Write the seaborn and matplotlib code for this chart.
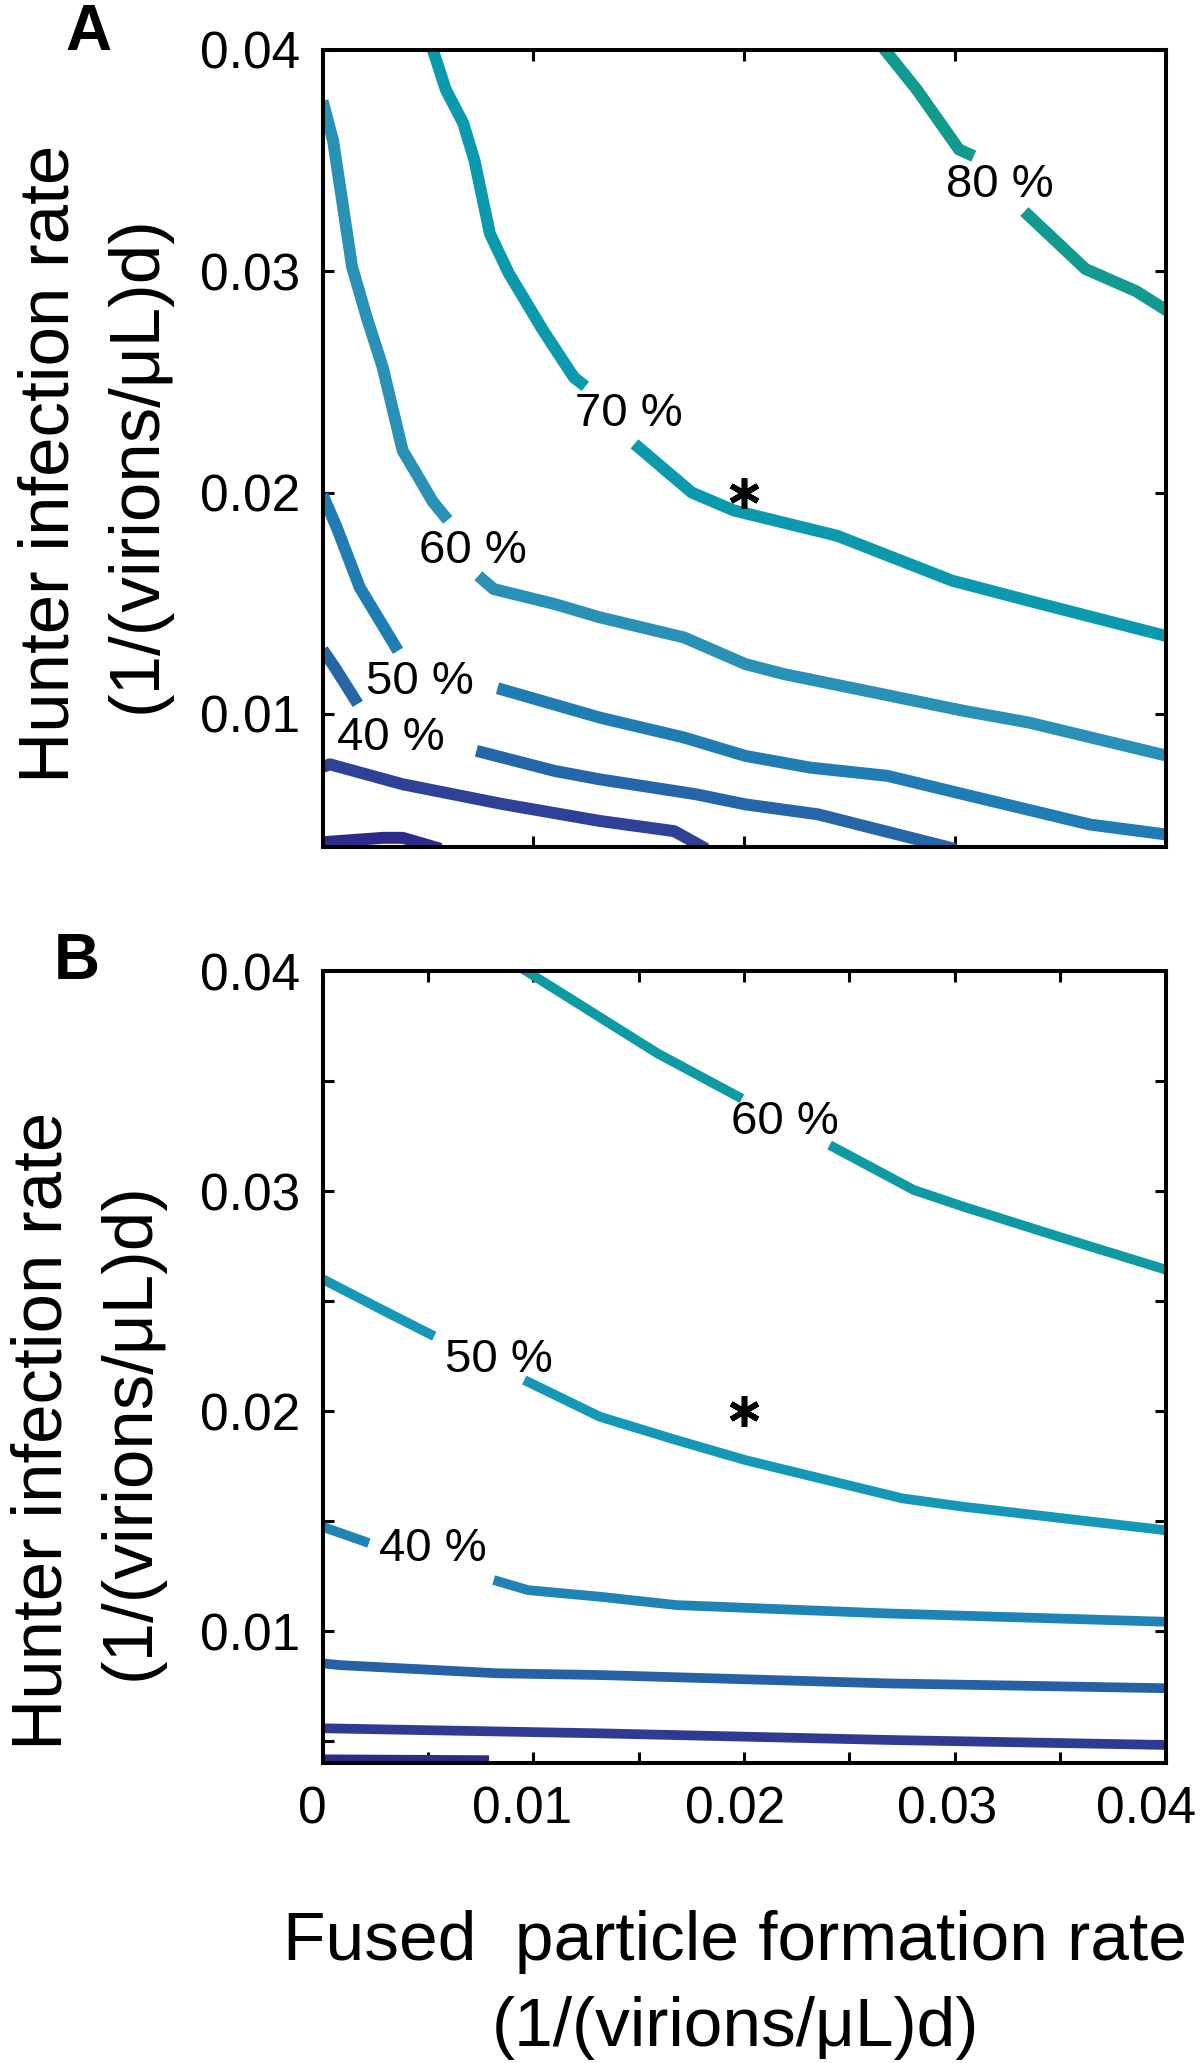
import numpy as np
import pandas as pd
import seaborn as sns
import matplotlib.pyplot as plt
from matplotlib.transforms import ScaledTranslation

# --- panel A: contour lines (x, y, piece id; pieces are split at label gaps) ---
A80_X = [0.0266, 0.0282, 0.0302, 0.0309, 0.0333, 0.0362, 0.0386, 0.0401]
A80_Y = [0.0401, 0.0382, 0.0355, 0.0352, 0.0327, 0.0301, 0.0291, 0.0282]
A80_SEG = [0, 0, 0, 0, 1, 1, 1, 1]

A70_X = [0.0052, 0.00585, 0.00667, 0.00721, 0.00794, 0.00884, 0.01048, 0.01193, 0.01247,
         0.0148, 0.01752, 0.01952, 0.02441, 0.02987, 0.03404, 0.0401]
A70_Y = [0.0401, 0.0382, 0.0367, 0.0350, 0.0317, 0.0299, 0.0273, 0.0252, 0.0248,
         0.0222, 0.0200, 0.01919, 0.01805, 0.01602, 0.01498, 0.0135]
A70_SEG = [0] * 9 + [1] * 7

A60_X = [0.0, 0.0005, 0.0014, 0.0021, 0.00285, 0.0038, 0.00467, 0.00522, 0.00594,
         0.00739, 0.00812, 0.01102, 0.01316, 0.01716, 0.02006, 0.02188, 0.03041, 0.0335, 0.0401]
A60_Y = [0.0377, 0.0359, 0.0302, 0.0279, 0.02567, 0.0219, 0.0205, 0.0196, 0.01876,
         0.01624, 0.01564, 0.01496, 0.01436, 0.01345, 0.01225, 0.0118, 0.01014, 0.00961, 0.0081]
A60_SEG = [0] * 9 + [1] * 10

A50_X = [0.0, 0.00067, 0.00176, 0.00358,
         0.0083, 0.01316, 0.01716, 0.02006, 0.02315, 0.0268, 0.03041, 0.03641, 0.0401]
A50_Y = [0.0199, 0.01843, 0.01572, 0.01285,
         0.01116, 0.00983, 0.00893, 0.0081, 0.00757, 0.0072, 0.00637, 0.0050, 0.00454]
A50_SEG = [0] * 4 + [1] * 9

A40_X = [0.0, 0.00058, 0.00167,
         0.0073, 0.01102, 0.01316, 0.0177, 0.02006, 0.02351, 0.0300]
A40_Y = [0.0129, 0.0121, 0.01045,
         0.00833, 0.00742, 0.00704, 0.00637, 0.00591, 0.00546, 0.0039]
A40_SEG = [0] * 3 + [1] * 7

A30_X = [0.0, 0.00035, 0.0038, 0.00851, 0.01316, 0.01669, 0.0182]
A30_Y = [0.0076, 0.00772, 0.00682, 0.00593, 0.00516, 0.0047, 0.0039]
A30_SEG = [0] * 7

A20_X = [0.0, 0.0029, 0.0038, 0.0056]
A20_Y = [0.0042, 0.0044, 0.0044, 0.0039]
A20_SEG = [0] * 4

# --- panel B ---
B60_X = [0.0095, 0.01316, 0.01589, 0.0199,
         0.02406, 0.02805, 0.03041, 0.03495, 0.0401]
B60_Y = [0.0401, 0.0379, 0.03626, 0.0342,
         0.03209, 0.03005, 0.02929, 0.02792, 0.0264]
B60_SEG = [0] * 4 + [1] * 5

B50_X = [0.0, 0.00285, 0.0053,
         0.00957, 0.01316, 0.01679, 0.02006, 0.02751, 0.03041, 0.0401]
B50_Y = [0.0260, 0.02459, 0.0234,
         0.02141, 0.01974, 0.01868, 0.01777, 0.01603, 0.01565, 0.01457]
B50_SEG = [0] * 3 + [1] * 7

B40_X = [0.0, 0.0022,
         0.00812, 0.00975, 0.01316, 0.01679, 0.0268, 0.0401]
B40_Y = [0.01474, 0.0140,
         0.01232, 0.01186, 0.01156, 0.01118, 0.0108, 0.01042]
B40_SEG = [0] * 2 + [1] * 6

B30_X = [0.0, 0.00085, 0.0083, 0.01316, 0.0268, 0.0401]
B30_Y = [0.00853, 0.00845, 0.00808, 0.0080, 0.00762, 0.0074]
B30_SEG = [0] * 6

B20_X = [0.0, 0.01316, 0.0268, 0.0401]
B20_Y = [0.00558, 0.00535, 0.00505, 0.00482]
B20_SEG = [0] * 4

B10_X = [0.0, 0.0079]
B10_Y = [0.00417, 0.00413]
B10_SEG = [0] * 2

# label positions (centre of text) and star
A_LABELS = ["80 %", "70 %", "60 %", "50 %", "40 %"]
A_LABEL_X = [0.03214, 0.01451, 0.00712, 0.00462, 0.00326]
A_LABEL_Y = [0.03389, 0.02353, 0.01738, 0.01146, 0.00893]
B_LABELS = ["60 %", "50 %", "40 %"]
B_LABEL_X = [0.02193, 0.00835, 0.00521]
B_LABEL_Y = [0.03315, 0.02234, 0.01373]
STAR_X = [0.02]
STAR_Y = [0.02]

X_TICKS = [0, 0.01, 0.02, 0.03, 0.04]
X_TICKLABELS = ["0", "0.01", "0.02", "0.03", "0.04"]
Y_TICKS = [0.01, 0.02, 0.03, 0.04]
Y_TICKLABELS = ["0.01", "0.02", "0.03", "0.04"]
MINOR_TICKS = [0.005, 0.015, 0.025, 0.035]

A_COLORS = {"80": "#129a8e", "70": "#0b9aad", "60": "#2990b6", "50": "#1f7db4",
            "40": "#2566a8", "30": "#2f4196", "20": "#2e2a8a"}
B_COLORS = {"60": "#0e9aa3", "50": "#1597b8", "40": "#1f84b5", "30": "#2660a5",
            "20": "#2f3b93", "10": "#2e2a88"}


def build_frame(lines):
    rows = []
    for level, xs, ys, segs in lines:
        for x, y, s in zip(xs, ys, segs):
            rows.append({"level": level, "seg": f"{level}-{s}", "x": x, "y": y})
    return pd.DataFrame(rows)


df_a = build_frame([("80", A80_X, A80_Y, A80_SEG), ("70", A70_X, A70_Y, A70_SEG),
                    ("60", A60_X, A60_Y, A60_SEG), ("50", A50_X, A50_Y, A50_SEG),
                    ("40", A40_X, A40_Y, A40_SEG), ("30", A30_X, A30_Y, A30_SEG),
                    ("20", A20_X, A20_Y, A20_SEG)])
df_b = build_frame([("60", B60_X, B60_Y, B60_SEG), ("50", B50_X, B50_Y, B50_SEG),
                    ("40", B40_X, B40_Y, B40_SEG), ("30", B30_X, B30_Y, B30_SEG),
                    ("20", B20_X, B20_Y, B20_SEG), ("10", B10_X, B10_Y, B10_SEG)])

sns.set_style("ticks")
plt.rcParams["font.family"] = ["Liberation Sans", "DejaVu Sans"]
plt.rcParams["text.color"] = "black"
plt.rcParams["xtick.color"] = "black"
plt.rcParams["ytick.color"] = "black"
plt.rcParams["xtick.labelcolor"] = "black"
plt.rcParams["ytick.labelcolor"] = "black"

fig = plt.figure(figsize=(12, 20.63), dpi=100)
ax_a = fig.add_axes([0.2688, 0.5896, 0.7025, 0.3862])
ax_b = fig.add_axes([0.2688, 0.1454, 0.7025, 0.3839])

sns.lineplot(data=df_a, x="x", y="y", hue="level", units="seg", estimator=None, sort=False,
             palette=A_COLORS, lw=8.6, solid_capstyle="butt", legend=False, ax=ax_a)
sns.lineplot(data=df_b, x="x", y="y", hue="level", units="seg", estimator=None, sort=False,
             palette=B_COLORS, lw=7.0, solid_capstyle="butt", legend=False, ax=ax_b)

for ax in (ax_a, ax_b):
    ax.set_xlim(0, 0.04)
    ax.set_ylim(0.004, 0.04)
    ax.set_xlabel("")
    ax.set_ylabel("")
    for sp in ax.spines.values():
        sp.set_visible(True)
        sp.set_linewidth(2.9)
        sp.set_color("black")
    ax.tick_params(which="both", direction="in", length=8, width=2.2, top=True, right=True,
                   labelsize=37, pad=16, colors="black")
    ax.plot(STAR_X, STAR_Y, ls="none", marker=(6, 2, 0), ms=22, mew=4, color="black")

for x, y, t in zip(A_LABEL_X, A_LABEL_Y, A_LABELS):
    ax_a.text(x, y, t, fontsize=34, ha="center", va="center", color="black")
for x, y, t in zip(B_LABEL_X, B_LABEL_Y, B_LABELS):
    ax_b.text(x, y, t, fontsize=34, ha="center", va="center", color="black")

# panel A: ticks every 0.01, no x labels
ax_a.set_xticks(X_TICKS)
ax_a.set_xticklabels([])
ax_a.set_yticks(Y_TICKS)
ax_a.set_yticklabels(Y_TICKLABELS)

# panel B: ticks every 0.005, labels every 0.01
ax_b.set_xticks(X_TICKS)
ax_b.set_xticklabels(X_TICKLABELS)
ax_b.set_xticks(MINOR_TICKS, minor=True)
ax_b.set_yticks(Y_TICKS)
ax_b.set_yticklabels(Y_TICKLABELS)
ax_b.set_yticks(MINOR_TICKS, minor=True)

# x tick labels sit a little left of their ticks in the original
for lab, dx in zip(ax_b.get_xticklabels(), [-10, -11, -9, -8, -19]):
    lab.set_transform(lab.get_transform() + ScaledTranslation(dx / 100, 0, fig.dpi_scale_trans))

ylab = "Hunter infection rate\n(1/(virions/\u03bcL)d)"
fig.text(94 / 1200, 1 - 464 / 2063, ylab, rotation=90, ha="center", va="center",
         fontsize=51, linespacing=1.42, multialignment="center")
fig.text(87 / 1200, 1 - 1431 / 2063, ylab, rotation=90, ha="center", va="center",
         fontsize=51, linespacing=1.42, multialignment="center")
fig.text(735 / 1200, 1 - 1985 / 2063, "Fused  particle formation rate\n(1/(virions/\u03bcL)d)",
         ha="center", va="center", fontsize=50, linespacing=1.42, multialignment="center")

fig.text(88 / 1200, 1 - 33 / 2063, "A", ha="center", va="center", fontsize=46, fontweight="bold")
fig.text(76.5 / 1200, 1 - 962 / 2063, "B", ha="center", va="center", fontsize=46, fontweight="bold")

fig.savefig("out.png", dpi=100)
